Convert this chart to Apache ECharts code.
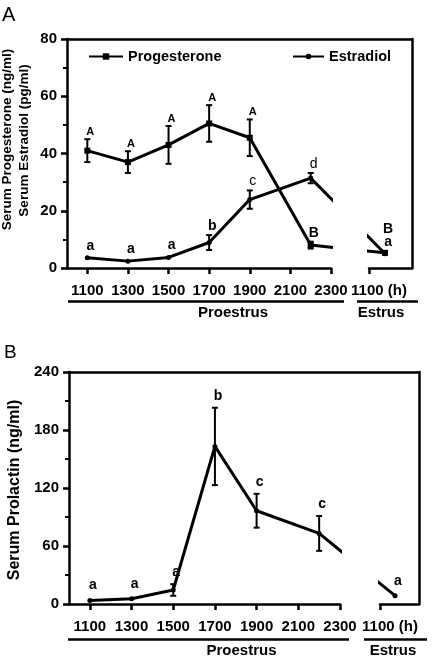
<!DOCTYPE html>
<html><head><meta charset="utf-8">
<script src="https://cdn.jsdelivr.net/npm/echarts@6/dist/echarts.min.js"></script>
<style>html,body{margin:0;padding:0;background:#fff}#c{width:444px;height:664px}</style>
</head><body><div id="c"></div>
<script>
// ---- data ----
const proestrusTimes = [11, 13, 15, 17, 19, 22];      // proestrus sampling hours (1100 ... 2200)
const estrusPos = 25.67;                               // display position of estrus 1100 sample (broken axis)
const xTickValues = [11, 13, 15, 17, 19, 21, 23];
const xTickLabels = ['1100', '1300', '1500', '1700', '1900', '2100', '2300'];
const estrusTickLabel = '1100 (h)';

const progesterone = [41, 37, 43, 50.5, 45.5, 8, 5.3];
const progesteroneSem = [4, 3.8, 6.6, 6.4, 6.4, 1.2, 0];
const progesteroneLetters = ['A', 'A', 'A', 'A', 'A', 'B', 'B'];

const estradiol = [3.6, 2.4, 3.7, 8.9, 23.9, 31.4, 5.0];
const estradiolSem = [0, 0, 0, 2.6, 3.2, 1.8, 0];
const estradiolLetters = ['a', 'a', 'a', 'b', 'c', 'd', 'a'];

const prolactin = [3.5, 5.5, 14.5, 163, 96.5, 73, 8.6];
const prolactinSem = [0, 0, 6, 40, 17.5, 18, 0];
const prolactinLetters = ['a', 'a', 'a', 'b', 'c', 'c', 'a'];

const yRangeA = [0, 80, 20];
const yRangeB = [0, 240, 60];

// ---- chart ----
const FONT = '"Liberation Sans", Arial, Helvetica, sans-serif';
const xs = proestrusTimes.concat([estrusPos]);
const pts = vals => xs.map((x, i) => [x, vals[i]]);
const AX = {color: '#000', width: 2.5};

function frameAxes(gi) {
  return {
    x: {type: 'value', gridIndex: gi, position: 'top', min: 0, max: 1,
        axisLine: {show: true, onZero: false, lineStyle: AX}, axisTick: {show: false},
        axisLabel: {show: false}, splitLine: {show: false}},
    y: {type: 'value', gridIndex: gi, position: 'right', min: 0, max: 1,
        axisLine: {show: true, onZero: false, lineStyle: AX}, axisTick: {show: false},
        axisLabel: {show: false}, splitLine: {show: false}}
  };
}
function xMain(gi) {
  return {type: 'value', gridIndex: gi, position: 'bottom', min: 10, max: 23,
    axisLine: {show: true, onZero: false, lineStyle: AX},
    axisTick: {show: true, customValues: xTickValues, length: 6, lineStyle: AX},
    axisLabel: {show: true, customValues: xTickValues, margin: 15,
      formatter: v => xTickLabels[xTickValues.indexOf(Math.round(v))],
      color: '#000', fontSize: 15, fontWeight: 'bold', fontFamily: FONT},
    splitLine: {show: false}};
}
function xEstrus(gi, mn, mx) {
  return {type: 'value', gridIndex: gi, position: 'bottom', min: mn, max: mx,
    axisLine: {show: true, onZero: false, lineStyle: AX},
    axisTick: {show: true, customValues: [mn], length: 6, lineStyle: AX},
    axisLabel: {show: true, customValues: [mn], margin: 15,
      formatter: () => '{s|\u00a0}' + estrusTickLabel,
      rich: {s: {width: 20}},
      color: '#000', fontSize: 15, fontWeight: 'bold', fontFamily: FONT},
    splitLine: {show: false}};
}
function yMain(gi, r) {
  return {type: 'value', gridIndex: gi, position: 'left', min: r[0], max: r[1], interval: r[2],
    axisLine: {show: true, onZero: false, lineStyle: AX},
    axisTick: {show: true, length: 6, lineStyle: AX},
    minorTick: {show: true, splitNumber: 2, length: 4, lineStyle: {color: '#000', width: 2}},
    axisLabel: {margin: 10, color: '#000', fontSize: 15, fontWeight: 'bold', fontFamily: FONT},
    splitLine: {show: false}, minorSplitLine: {show: false}};
}
function yHidden(gi, r) {
  return {type: 'value', gridIndex: gi, min: r[0], max: r[1], show: false, splitLine: {show: false}};
}
function lineSeries(name, vals, symbol, size, axi) {
  return {type: 'line', name, xAxisIndex: axi, yAxisIndex: axi, data: pts(vals),
    symbol, symbolSize: size, showSymbol: true, clip: true, z: 3,
    lineStyle: {color: '#000', width: 3}, itemStyle: {color: '#000'},
    emphasis: {disabled: true}, animation: false};
}
function labelFont(letter, panel) {
  if (letter === 'A') return 'bold 11px ' + FONT;
  if (panel === 'A' && (letter === 'c' || letter === 'd')) return 'normal 14px ' + FONT;
  return 'bold 14px ' + FONT;
}
function errSeries(vals, sem, letters, axi, idxs, panel, gap, extra) {
  return {type: 'custom', xAxisIndex: axi, yAxisIndex: axi, silent: true, animation: false, z: 4,
    data: idxs.map(i => [xs[i], vals[i], sem[i], i]),
    renderItem: (params, api) => {
      const x = api.value(0), y = api.value(1), e = api.value(2), i = api.value(3);
      const c = api.coord([x, y]);
      const ch = [];
      let top = c[1] - 3;
      if (e > 0) {
        const t = api.coord([x, y + e]), b = api.coord([x, y - e]);
        top = Math.min(top, t[1]);
        const st = {stroke: '#000', lineWidth: 2};
        ch.push({type: 'line', shape: {x1: c[0], y1: t[1], x2: c[0], y2: b[1]}, style: st});
        ch.push({type: 'line', shape: {x1: c[0] - 3, y1: t[1], x2: c[0] + 3, y2: t[1]}, style: st});
        ch.push({type: 'line', shape: {x1: c[0] - 3, y1: b[1], x2: c[0] + 3, y2: b[1]}, style: st});
      }
      ch.push({type: 'text', x: c[0] + 3, y: top - gap - (extra[i] || 0),
        style: {text: letters[i], font: labelFont(letters[i], panel), fill: '#000',
                align: 'center', verticalAlign: 'bottom'}});
      return {type: 'group', children: ch};
    }};
}

const fA = frameAxes(0), fB = frameAxes(3);
const proIdx = [0, 1, 2, 3, 4, 5], estIdx = [6];

const option = {
  animation: false,
  backgroundColor: '#fff',
  grid: [
    {left: 67, top: 39, width: 345, height: 229},
    {left: 67, top: 39, width: 264, height: 229},
    {left: 369, top: 39, width: 43, height: 229},
    {left: 69, top: 372, width: 350, height: 232},
    {left: 69, top: 372, width: 271, height: 232},
    {left: 380, top: 372, width: 39, height: 232}
  ],
  xAxis: [fA.x, xMain(1), xEstrus(2, 24.88, 27.0), fB.x, xMain(4), xEstrus(5, 24.95, 26.82)],
  yAxis: [fA.y, yMain(1, yRangeA), yHidden(2, yRangeA), fB.y, yMain(4, yRangeB), yHidden(5, yRangeB)],
  legend: [
    {left: 83, top: 44, itemWidth: 34, itemHeight: 8, selectedMode: false, data: ['Progesterone'],
     textStyle: {color: '#000', fontSize: 14.5, fontWeight: 'bold', fontFamily: FONT}},
    {left: 287, top: 44, itemWidth: 31, itemHeight: 7, selectedMode: false, data: ['Estradiol'],
     textStyle: {color: '#000', fontSize: 14.5, fontWeight: 'bold', fontFamily: FONT}}
  ],
  series: [
    lineSeries('Progesterone', progesterone, 'rect', 6, 1),
    lineSeries('Progesterone', progesterone, 'rect', 6, 2),
    lineSeries('Estradiol', estradiol, 'circle', 5, 1),
    lineSeries('Estradiol', estradiol, 'circle', 5, 2),
    errSeries(progesterone, progesteroneSem, progesteroneLetters, 1, proIdx, 'A', 2, {}),
    errSeries(progesterone, progesteroneSem, progesteroneLetters, 2, estIdx, 'A', 2, {6: 12}),
    errSeries(estradiol, estradiolSem, estradiolLetters, 1, proIdx, 'A', 2, {}),
    errSeries(estradiol, estradiolSem, estradiolLetters, 2, estIdx, 'A', 2, {}),
    lineSeries('Prolactin', prolactin, 'circle', 5, 4),
    lineSeries('Prolactin', prolactin, 'circle', 5, 5),
    errSeries(prolactin, prolactinSem, prolactinLetters, 4, proIdx, 'B', 5, {}),
    errSeries(prolactin, prolactinSem, prolactinLetters, 5, estIdx, 'B', 5, {})
  ],
  graphic: [
    {type: 'text', x: 2, y: 15, style: {text: 'A', font: '20px ' + FONT, fill: '#000', align: 'left', verticalAlign: 'middle'}},
    {type: 'text', x: 4, y: 353, style: {text: 'B', font: '19px ' + FONT, fill: '#000', align: 'left', verticalAlign: 'middle'}},
    {type: 'text', x: 7.5, y: 139.5, rotation: Math.PI / 2, style: {text: 'Serum Progesterone (ng/ml)', font: 'bold 13.5px ' + FONT, fill: '#000', align: 'center', verticalAlign: 'middle'}},
    {type: 'text', x: 24.5, y: 140.5, rotation: Math.PI / 2, style: {text: 'Serum Estradiol (pg/ml)', font: 'bold 13.5px ' + FONT, fill: '#000', align: 'center', verticalAlign: 'middle'}},
    {type: 'text', x: 15, y: 490, rotation: Math.PI / 2, style: {text: 'Serum Prolactin (ng/ml)', font: 'bold 16px ' + FONT, fill: '#000', align: 'center', verticalAlign: 'middle'}},
    {type: 'line', shape: {x1: 68, y1: 301.5, x2: 344, y2: 301.5}, style: {stroke: '#000', lineWidth: 2.5}},
    {type: 'line', shape: {x1: 357, y1: 301.5, x2: 418, y2: 301.5}, style: {stroke: '#000', lineWidth: 2.5}},
    {type: 'line', shape: {x1: 68, y1: 639.5, x2: 349, y2: 639.5}, style: {stroke: '#000', lineWidth: 2.5}},
    {type: 'line', shape: {x1: 364, y1: 639.5, x2: 427, y2: 639.5}, style: {stroke: '#000', lineWidth: 2.5}},
    {type: 'text', x: 233, y: 312.5, style: {text: 'Proestrus', font: 'bold 15px ' + FONT, fill: '#000', align: 'center', verticalAlign: 'middle'}},
    {type: 'text', x: 381, y: 312.5, style: {text: 'Estrus', font: 'bold 15px ' + FONT, fill: '#000', align: 'center', verticalAlign: 'middle'}},
    {type: 'text', x: 241.5, y: 651, style: {text: 'Proestrus', font: 'bold 15px ' + FONT, fill: '#000', align: 'center', verticalAlign: 'middle'}},
    {type: 'text', x: 393, y: 651, style: {text: 'Estrus', font: 'bold 15px ' + FONT, fill: '#000', align: 'center', verticalAlign: 'middle'}}
  ]
};
const chart = echarts.init(document.getElementById('c'), null, {renderer: 'canvas'});
chart.setOption(option);
</script>
</body></html>
